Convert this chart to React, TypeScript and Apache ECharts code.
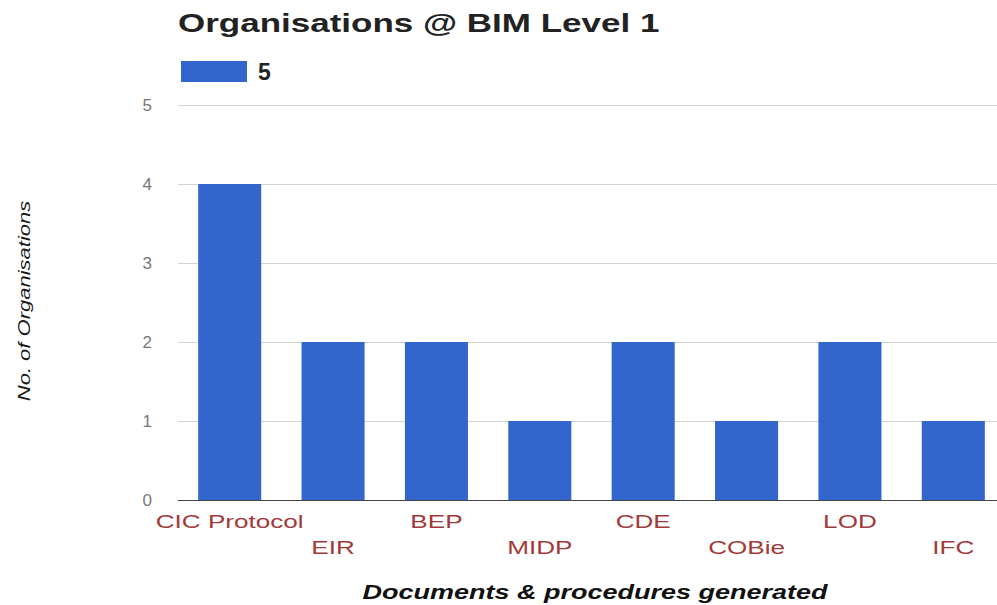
import React, { useEffect, useRef } from "react";
import * as echarts from "echarts";

const categories = ["CIC Protocol", "EIR", "BEP", "MIDP", "CDE", "COBie", "LOD", "IFC"];
const values = [4, 2, 2, 1, 2, 1, 2, 1];
const yTicks = [0, 1, 2, 3, 4, 5];
const seriesName = "5";
const titleText = "Organisations @ BIM Level 1";
const xAxisTitle = "Documents & procedures generated";
const yAxisTitle = "No. of Organisations";

// The original chart is cropped slightly at its right edge, so the drawing
// surface is a little wider than the 997px window.
const W = 1005;
const H = 605;

export default function App() {
  const ref = useRef<HTMLDivElement>(null);

  useEffect(() => {
    const chart = echarts.init(ref.current!, null, { renderer: "svg" });
    const font = "'Liberation Sans', Arial, sans-serif";
    chart.setOption({
      animation: false,
      backgroundColor: "#ffffff",
      grid: { left: 178, right: 0, top: 105, bottom: 105, containLabel: false },
      legend: {
        data: [seriesName],
        left: 176,
        top: 55,
        icon: "rect",
        itemWidth: 66,
        itemHeight: 21,
        textStyle: { fontFamily: font, fontSize: 23, fontWeight: "bold", color: "#222", padding: [0, 0, 0, 6] },
      },
      xAxis: {
        type: "category",
        data: categories,
        axisLine: { show: true, lineStyle: { color: "#444", width: 1 } },
        axisTick: { show: false },
        axisLabel: { show: false },
        splitLine: { show: false },
      },
      yAxis: {
        type: "value",
        min: yTicks[0],
        max: yTicks[yTicks.length - 1],
        interval: 1,
        axisLine: { show: false },
        axisTick: { show: false },
        axisLabel: { margin: 26, fontFamily: font, fontSize: 17, color: "#777" },
        splitLine: { lineStyle: { color: "#d4d4d4", width: 1 } },
      },
      series: [
        {
          name: seriesName,
          type: "bar",
          data: values,
          barCategoryGap: "39%",
          itemStyle: { color: "#3366cc" },
        },
      ],
    });

    const labels = categories.map((c, i) => {
      const p = chart.convertToPixel({ gridIndex: 0 }, [i, 0]) as number[];
      return {
        type: "text",
        x: p[0],
        y: p[1] + (i % 2 === 1 ? 48 : 22),
        scaleX: 1.45,
        style: {
          text: c,
          fontFamily: font,
          fontSize: 18,
          fill: "#a33a3a",
          align: "center",
          verticalAlign: "middle",
        },
      };
    });

    chart.setOption({
      graphic: [
        {
          type: "text",
          x: 178,
          y: 23,
          scaleX: 1.4,
          style: {
            text: titleText,
            fontFamily: font,
            fontSize: 25,
            fontWeight: "bold",
            fill: "#222",
            align: "left",
            verticalAlign: "middle",
          },
        },
        {
          type: "text",
          x: 595,
          y: 592,
          scaleX: 1.35,
          style: {
            text: xAxisTitle,
            fontFamily: font,
            fontSize: 20,
            fontWeight: "bold",
            fontStyle: "italic",
            fill: "#111",
            align: "center",
            verticalAlign: "middle",
          },
        },
        {
          type: "text",
          x: 24,
          y: 301,
          rotation: Math.PI / 2,
          scaleY: 0.75,
          style: {
            text: yAxisTitle,
            fontFamily: font,
            fontSize: 22,
            fontStyle: "italic",
            fill: "#1a1a1a",
            align: "center",
            verticalAlign: "middle",
          },
        },
        ...labels,
      ],
    });

    return () => chart.dispose();
  }, []);

  return (
    <div
      ref={ref}
      style={{ position: "fixed", left: 0, top: 0, width: W, height: H }}
    />
  );
}
